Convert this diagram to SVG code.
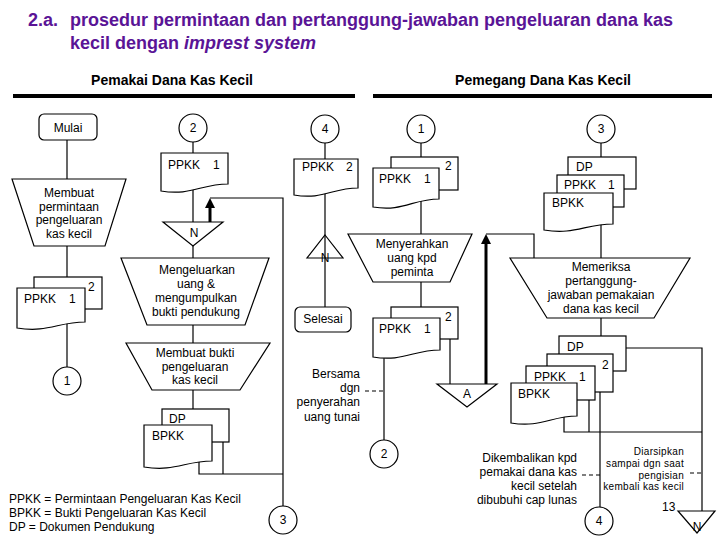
<svg xmlns="http://www.w3.org/2000/svg" width="720" height="540" viewBox="0 0 720 540">
<style>
.ln{fill:none;stroke:#000;stroke-width:1.2}
.sh{fill:#fff;stroke:#000;stroke-width:1.2}
.no{fill:none;stroke:#000;stroke-width:1.2}
.th{fill:none;stroke:#000;stroke-width:3}
.hd{fill:none;stroke:#000;stroke-width:4}
.da{fill:none;stroke:#000;stroke-width:1.2;stroke-dasharray:4 3}
.t{font-family:"Liberation Sans",Arial,sans-serif;font-size:12px;fill:#000}
.c{text-anchor:middle}
.r{text-anchor:end}
.sm{font-size:10px;letter-spacing:0.3px}
.ti{font-family:"Liberation Sans",Arial,sans-serif;font-size:18px;font-weight:bold;fill:#5A1496}
.h{font-family:"Liberation Sans",Arial,sans-serif;font-size:14px;font-weight:bold;fill:#000}
</style>
<defs>
<marker id="ah" viewBox="0 0 10 10" refX="2" refY="5" markerWidth="10" markerHeight="10" markerUnits="userSpaceOnUse" orient="auto">
<path d="M0,0 L10,5 L0,10 Z" fill="#000"/>
</marker>
</defs>
<rect width="720" height="540" fill="#fff"/>

<g id="title">
<text class="ti" x="28" y="26">2.a.</text>
<text class="ti" x="70" y="26">prosedur permintaan dan pertanggung-jawaban pengeluaran dana kas</text>
<text class="ti" x="70" y="49">kecil dengan <tspan font-style="italic">imprest system</tspan></text>
</g>

<g id="lanes">
<text class="h c" x="172" y="85">Pemakai Dana Kas Kecil</text>
<line class="hd" x1="13" y1="96" x2="355" y2="96"/>
<text class="h c" x="543" y="85">Pemegang Dana Kas Kecil</text>
<line class="hd" x1="373" y1="96" x2="712" y2="96"/>
</g>

<g id="connectors">
<path class="ln" d="M67,140 V179"/>
<path class="ln" d="M67,246 V277"/>
<path class="ln" d="M67,320 V367"/>
<path class="ln" d="M193,142 V153"/>
<path class="ln" d="M193,185 V222"/>
<path class="ln" d="M193,246 V258"/>
<path class="ln" d="M193,325 V343"/>
<path class="ln" d="M193,390 V409"/>
<path class="ln" d="M199,458 V474 H283"/>
<path class="ln" d="M223,440 V474"/>
<path class="ln" d="M210,198 H283 V506"/>
<path class="th" d="M210,222 V206" marker-end="url(#ah)"/>
<path class="ln" d="M325,143 V159"/>
<path class="ln" d="M325,190 V307"/>
<path class="ln" d="M421,143 V157"/>
<path class="ln" d="M421,200 V235"/>
<path class="ln" d="M421,282 V307"/>
<path class="ln" d="M384,350 V440"/>
<path class="da" d="M365,391 H384"/>
<path class="ln" d="M450,335 V384"/>
<path class="th" d="M486,384 V242" marker-end="url(#ah)"/>
<path class="ln" d="M486,234 H534 V258"/>
<path class="ln" d="M601,143 V157"/>
<path class="ln" d="M601,220 V258"/>
<path class="ln" d="M601,318 V336"/>
<path class="ln" d="M564,410 V432 H702"/>
<path class="ln" d="M589,395 V432"/>
<path class="ln" d="M600,385 V507"/>
<path class="ln" d="M626,348 H702 V511"/>
<path class="da" d="M582,475 H600"/>
<path class="da" d="M690,473 H702"/>
</g>

<g id="mulai">
<rect class="sh" x="39" y="114" width="58" height="26" rx="5"/>
<text class="t c" x="68" y="132">Mulai</text>
</g>

<g id="membuat-permintaan">
<path class="sh" d="M12,179 H126 L105,246 H34 Z"/>
<text class="t c" x="69" y="197">Membuat</text>
<text class="t c" x="69" y="210.5">permintaan</text>
<text class="t c" x="69" y="224">pengeluaran</text>
<text class="t c" x="69" y="238">kas kecil</text>
</g>

<g id="doc-ppkk-left">
<rect class="sh" x="34" y="277" width="68" height="32"/>
<path class="sh" d="M17,288 H85 V322 C58,322 48,333 17,328 Z"/>
<text class="t" x="24" y="303">PPKK</text>
<text class="t" x="69" y="303">1</text>
<text class="t" x="88" y="291">2</text>
</g>

<g id="circle-1-left">
<circle class="sh" cx="67" cy="381" r="14"/>
<text class="t c" x="67" y="385">1</text>
</g>

<g id="circle-2-left">
<circle class="sh" cx="193" cy="128" r="14"/>
<text class="t c" x="193" y="132">2</text>
</g>

<g id="doc-ppkk1-col2">
<path class="sh" d="M161,153 H228 V184 C201,184 191,196 161,191 Z"/>
<text class="t" x="168" y="169">PPKK</text>
<text class="t" x="213" y="169">1</text>
</g>

<g id="file-n-left">
<path class="sh" d="M163,222 H223 L193,246 Z"/>
<text class="t c" x="194" y="237">N</text>
</g>

<g id="mengeluarkan">
<path class="sh" d="M121,258 H269 L245,325 H147 Z"/>
<text class="t c" x="197" y="274" font-size="12.5">Mengeluarkan</text>
<text class="t c" x="196" y="288" font-size="12.5">uang &amp;</text>
<text class="t c" x="196" y="302" font-size="12.5">mengumpulkan</text>
<text class="t c" x="196" y="316" font-size="12.5">bukti pendukung</text>
</g>

<g id="membuat-bukti">
<path class="sh" d="M126,343 H270 L240,390 H152 Z"/>
<text class="t c" x="195" y="357">Membuat bukti</text>
<text class="t c" x="195" y="370.5">pengeluaran</text>
<text class="t c" x="195" y="384">kas kecil</text>
</g>

<g id="doc-dp-bpkk-left">
<rect class="sh" x="162" y="409" width="67" height="33"/>
<path class="sh" d="M144,425 H212 V461 C185,461 175,472 144,467 Z"/>
<text class="t" x="169" y="423">DP</text>
<text class="t" x="152" y="440">BPKK</text>
</g>

<g id="circle-3-left">
<circle class="sh" cx="283" cy="520" r="14"/>
<text class="t c" x="283" y="524">3</text>
</g>

<g id="legend">
<text class="t" x="9" y="503">PPKK = Permintaan Pengeluaran Kas Kecil</text>
<text class="t" x="9" y="517">BPKK = Bukti Pengeluaran Kas Kecil</text>
<text class="t" x="9" y="531">DP = Dokumen Pendukung</text>
</g>

<g id="circle-4-top">
<circle class="sh" cx="325" cy="129" r="14"/>
<text class="t c" x="325" y="133">4</text>
</g>

<g id="doc-ppkk2">
<path class="sh" d="M294,159 H358 V188 C332,188 323,200 294,195 Z"/>
<text class="t" x="302" y="171">PPKK</text>
<text class="t" x="346" y="171">2</text>
</g>

<g id="file-n-mid">
<path class="no" d="M325,235 L343,258 H307 Z"/>
<text class="t c" x="325" y="262">N</text>
</g>

<g id="selesai">
<rect class="sh" x="295" y="307" width="56" height="25" rx="5"/>
<text class="t c" x="323" y="323">Selesai</text>
</g>

<g id="circle-1-right">
<circle class="sh" cx="421" cy="129" r="14"/>
<text class="t c" x="421" y="133">1</text>
</g>

<g id="doc-ppkk-upper">
<rect class="sh" x="391" y="157" width="67" height="33"/>
<path class="sh" d="M373,168 H439 V199 C413,199 403,212 373,207 Z"/>
<text class="t" x="379" y="183">PPKK</text>
<text class="t" x="424" y="183">1</text>
<text class="t" x="445" y="170">2</text>
</g>

<g id="menyerahkan">
<path class="sh" d="M348,234 H472 L450,282 H373 Z"/>
<text class="t c" x="412" y="248">Menyerahkan</text>
<text class="t c" x="412" y="262">uang kpd</text>
<text class="t c" x="412" y="276">peminta</text>
</g>

<g id="doc-ppkk-lower">
<rect class="sh" x="391" y="307" width="67" height="32"/>
<path class="sh" d="M373,318 H440 V350 C413,350 403,362 373,357 Z"/>
<text class="t" x="379" y="333">PPKK</text>
<text class="t" x="424" y="333">1</text>
<text class="t" x="445" y="321">2</text>
</g>

<g id="note-bersama">
<text class="t r" x="360" y="378">Bersama</text>
<text class="t r" x="360" y="392">dgn</text>
<text class="t r" x="360" y="406">penyerahan</text>
<text class="t r" x="360" y="421">uang tunai</text>
</g>

<g id="circle-2-right">
<circle class="sh" cx="384" cy="454" r="14"/>
<text class="t c" x="384" y="458">2</text>
</g>

<g id="file-a">
<path class="sh" d="M437,384 H497 L467,407 Z"/>
<text class="t c" x="467" y="398">A</text>
</g>

<g id="circle-3-right">
<circle class="sh" cx="601" cy="129" r="14"/>
<text class="t c" x="601" y="133">3</text>
</g>

<g id="doc-dp-ppkk-bpkk">
<rect class="sh" x="568" y="157" width="68" height="32"/>
<rect class="sh" x="557" y="175" width="67" height="32"/>
<path class="sh" d="M544,193 H613 V224 C585,224 575,235 544,230 Z"/>
<text class="t" x="576" y="171">DP</text>
<text class="t" x="564" y="189">PPKK</text>
<text class="t" x="608" y="189">1</text>
<text class="t" x="552" y="207">BPKK</text>
</g>

<g id="memeriksa">
<path class="sh" d="M510,258 H690 L654,318 H547 Z"/>
<text class="t c" x="601" y="271">Memeriksa</text>
<text class="t c" x="601" y="285">pertanggung-</text>
<text class="t c" x="601" y="299">jawaban pemakaian</text>
<text class="t c" x="601" y="313">dana kas kecil</text>
</g>

<g id="doc-quad">
<rect class="sh" x="559" y="336" width="67" height="35"/>
<rect class="sh" x="547" y="354" width="66" height="38"/>
<rect class="sh" x="526" y="366" width="69" height="34"/>
<path class="sh" d="M511,383 H577 V416 C551,416 541,428 511,423 Z"/>
<text class="t" x="567" y="351">DP</text>
<text class="t" x="602" y="369">2</text>
<text class="t" x="534" y="381">PPKK</text>
<text class="t" x="579" y="381">1</text>
<text class="t" x="518" y="398">BPKK</text>
</g>

<g id="note-dikembalikan">
<text class="t r" x="577" y="462">Dikembalikan kpd</text>
<text class="t r" x="577" y="476">pemakai dana kas</text>
<text class="t r" x="577" y="490">kecil setelah</text>
<text class="t r" x="577" y="504">dibubuhi cap lunas</text>
</g>

<g id="circle-4-bottom">
<circle class="sh" cx="599" cy="521" r="14"/>
<text class="t c" x="599" y="525">4</text>
</g>

<g id="note-diarsipkan">
<text class="t r sm" x="684" y="455">Diarsipkan</text>
<text class="t r sm" x="684" y="467">sampai dgn saat</text>
<text class="t r sm" x="684" y="479">pengisian</text>
<text class="t r sm" x="684" y="490">kembali kas kecil</text>
</g>

<g id="file-n-right">
<path class="sh" d="M678,511 H715 L697,533 Z"/>
<text class="t c" x="697" y="531">N</text>
</g>

<g id="page-number">
<text class="t" x="662" y="511" font-size="15">13</text>
</g>
</svg>
